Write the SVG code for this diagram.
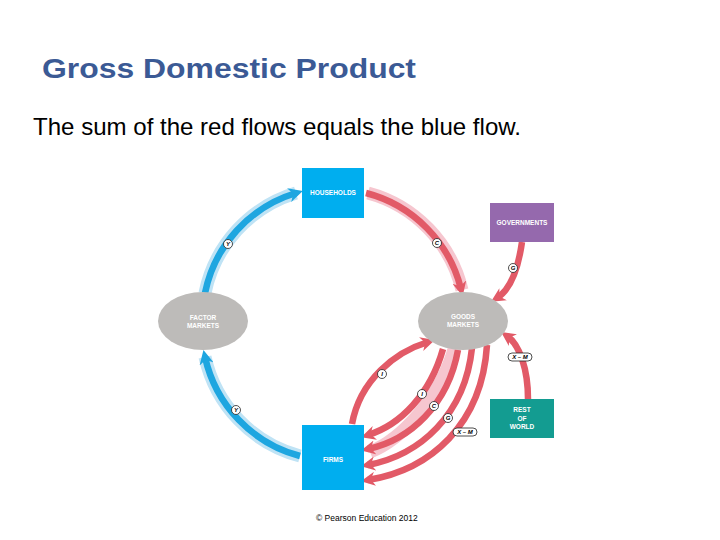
<svg xmlns="http://www.w3.org/2000/svg" width="720" height="540" viewBox="0 0 720 540">
<style>
.t{font-family:"Liberation Sans",Arial,sans-serif}
.n{font-family:"Liberation Sans",Arial,sans-serif;font-size:6.5px;font-weight:bold;fill:#fff;text-anchor:middle}
.r{fill:none;stroke:#e25a67;stroke-width:6.5}
.rh{fill:none;stroke:#f6c6cf;stroke-width:13}
.b{fill:none;stroke:#1ea6e0;stroke-width:6.5}
.bh{fill:none;stroke:#bfe3f5;stroke-width:13}
.lb{fill:#fff;stroke:#222;stroke-width:0.8}
.lt{font-family:"Liberation Sans",Arial,sans-serif;font-size:6px;font-weight:bold;font-style:italic;text-anchor:middle}
</style>
<defs>
<marker id="ar" viewBox="0 0 10 10" refX="5" refY="5" markerWidth="2.2" markerHeight="2.2" orient="auto"><path d="M0,0L10,5L0,10L3,5z" fill="#e25a67"/></marker>
<marker id="ab" viewBox="0 0 10 10" refX="5" refY="5" markerWidth="2.2" markerHeight="2.2" orient="auto"><path d="M0,0L10,5L0,10L3,5z" fill="#1ea6e0"/></marker>
</defs>
<rect width="720" height="540" fill="#fff"/>
<text class="t" x="42" y="78" font-size="28" font-weight="bold" fill="#3b5a95" textLength="374" lengthAdjust="spacingAndGlyphs">Gross Domestic Product</text>
<text class="t" x="33" y="135" font-size="24" fill="#000" textLength="488" lengthAdjust="spacingAndGlyphs">The sum of the red flows equals the blue flow.</text>
<g id="connectors">
<path class="bh" d="M205,293 A132,132 0 0 1 296,193"/>
<path class="bh" d="M300,456 A132,132 0 0 1 205,357"/>
<path class="rh" d="M368,193 A132,132 0 0 1 462,290"/>
<path class="rh" d="M455,346 C440,400 400,440 370,452"/>
<path class="b" d="M205,293 A132,132 0 0 1 296,193" marker-end="url(#ab)"/>
<path class="b" d="M300,456 A132,132 0 0 1 205,357" marker-end="url(#ab)"/>
<path class="r" d="M366,193 A132,132 0 0 1 461,289" marker-end="url(#ar)"/>
<path class="r" d="M522,242 C518,270 510,290 497,298" marker-end="url(#ar)"/>
<path class="r" d="M528,399 C528,370 520,345 507,336" marker-end="url(#ar)"/>
<path class="r" d="M352,424 C360,380 395,352 428,342" marker-end="url(#ar)"/>
<path class="r" d="M443,349 C430,395 400,425 368,435" marker-end="url(#ar)"/>
<path class="r" d="M458,350 C448,405 410,440 368,449" marker-end="url(#ar)"/>
<path class="r" d="M472,348 C465,415 420,455 368,465" marker-end="url(#ar)"/>
<path class="r" d="M487,345 C482,425 430,470 368,480" marker-end="url(#ar)"/>
</g>
<g id="labels">
<circle class="lb" cx="228" cy="244" r="4.5"/><text class="lt" x="228" y="246.2">Y</text>
<circle class="lb" cx="236" cy="410" r="4.5"/><text class="lt" x="236" y="412.2">Y</text>
<circle class="lb" cx="437" cy="243" r="4.5"/><text class="lt" x="437" y="245.2">C</text>
<circle class="lb" cx="513" cy="268" r="4.5"/><text class="lt" x="513" y="270.2">G</text>
<rect class="lb" x="508" y="353" width="24" height="8" rx="4"/><text class="lt" x="520" y="359.2">X – M</text>
<circle class="lb" cx="382" cy="374" r="4.5"/><text class="lt" x="382" y="376.2">I</text>
<circle class="lb" cx="422" cy="394" r="4.5"/><text class="lt" x="422" y="396.2">I</text>
<circle class="lb" cx="434" cy="406" r="4.5"/><text class="lt" x="434" y="408.2">C</text>
<circle class="lb" cx="448" cy="418" r="4.5"/><text class="lt" x="448" y="420.2">G</text>
<rect class="lb" x="453" y="428" width="24" height="8" rx="4"/><text class="lt" x="465" y="434.2">X – M</text>
</g>
<g id="households"><rect x="302" y="168" width="62" height="50" fill="#00aeef"/><text class="n" x="333" y="195">HOUSEHOLDS</text></g>
<g id="firms"><rect x="302" y="425" width="62" height="65" fill="#00aeef"/><text class="n" x="333" y="462">FIRMS</text></g>
<g id="governments"><rect x="490" y="203" width="64" height="39" fill="#9569ad"/><text class="n" x="522" y="224.5">GOVERNMENTS</text></g>
<g id="rest-of-world"><rect x="490" y="399" width="64" height="39" fill="#139c91"/><text class="n" x="522" y="412">REST</text><text class="n" x="522" y="420.5">OF</text><text class="n" x="522" y="429">WORLD</text></g>
<g id="factor-markets"><ellipse cx="203" cy="321" rx="45" ry="29" fill="#bdbbb9"/><text class="n" x="203" y="320">FACTOR</text><text class="n" x="203" y="328">MARKETS</text></g>
<g id="goods-markets"><ellipse cx="463" cy="321" rx="45" ry="29" fill="#bdbbb9"/><text class="n" x="463" y="319">GOODS</text><text class="n" x="463" y="327">MARKETS</text></g>
<text class="t" x="316" y="521" font-size="8.5" fill="#000">© Pearson Education 2012</text>
</svg>
